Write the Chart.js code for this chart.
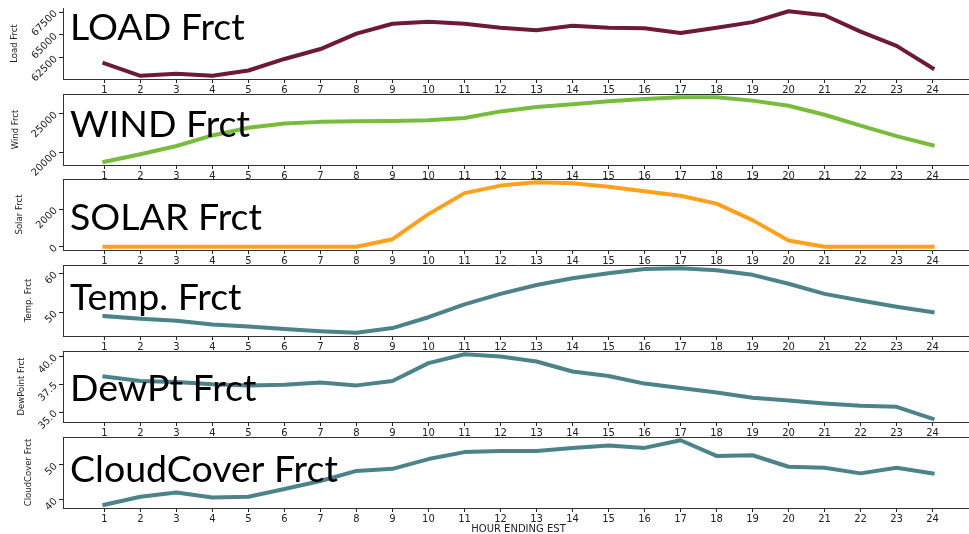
<!DOCTYPE html>
<html>
<head>
<meta charset="utf-8">
<script src="https://cdn.jsdelivr.net/npm/chart.js@4.4.1/dist/chart.umd.min.js"></script>
<style>
  html, body { margin: 0; padding: 0; background: #fff; overflow: hidden; width: 969px; height: 534px; }
  #wrap { position: relative; width: 976px; height: 534px; }
  .panel { position: absolute; left: 0; width: 976px; }
</style>
</head>
<body>
<div id="wrap"></div>
<script>
const hours = [1, 2, 3, 4, 5, 6, 7, 8, 9, 10, 11, 12, 13, 14, 15, 16, 17, 18, 19, 20, 21, 22, 23, 24];

const loadFrct = [61880, 60510, 60730, 60510, 61090, 62360, 63450, 65140, 66230, 66450, 66230, 65790,
  65510, 66010, 65790, 65730, 65220, 65790, 66410, 67610, 67170, 65360, 63800, 61340];
const windFrct = [18760, 19740, 20810, 22180, 23170, 23720, 23940, 24010, 24060, 24140, 24450, 25300,
  25860, 26240, 26630, 26920, 27140, 27140, 26700, 26030, 24870, 23460, 22090, 20900];
const solarFrct = [0, 0, 0, 0, 0, 0, 0, 0, 405, 1740, 2860, 3260,
  3440, 3390, 3200, 2960, 2720, 2300, 1420, 330, 0, 0, 0, 0];
const tempFrct = [49.1, 48.4, 47.9, 46.9, 46.4, 45.8, 45.2, 44.8, 46.0, 48.8, 52.1, 54.8,
  57.1, 58.8, 60.1, 61.2, 61.4, 60.9, 59.7, 57.4, 54.8, 53.1, 51.5, 50.1];
const dewPtFrct = [38.2, 37.8, 37.7, 37.5, 37.4, 37.45, 37.65, 37.4, 37.8, 39.4, 40.2, 40.0,
  39.55, 38.65, 38.25, 37.56, 37.17, 36.76, 36.28, 36.04, 35.78, 35.56, 35.47, 34.4];
const cloudFrct = [38.6, 40.9, 42.1, 40.7, 40.9, 43.1, 45.4, 48.3, 48.9, 51.7, 53.7, 54.0,
  54.0, 54.9, 55.6, 54.9, 57.1, 52.6, 52.8, 49.5, 49.2, 47.6, 49.2, 47.6];

const loadTicks = [62500, 65000, 67500];
const windTicks = [20000, 25000];
const solarTicks = [0, 2000];
const tempTicks = [50, 60];
const dewPtTicks = [35, 37.5, 40];
const cloudTicks = [40, 50];

const panelTitles = ["LOAD Frct", "WIND Frct", "SOLAR Frct", "Temp. Frct", "DewPt Frct", "CloudCover Frct"];
const axisLabels = ["Load Frct", "Wind Frct", "Solar Frct", "Temp. Frct", "DewPoint Frct", "CloudCover Frct"];
const xAxisLabel = "HOUR ENDING EST";

// layout / style per panel (pixels)
const panels = [
  { values: loadFrct, ticks: loadTicks, color: "#6d1a36", top: 8, titleBase: 32, labelPad: 10, topBorder: false, digits: 0 },
  { values: windFrct, ticks: windTicks, color: "#78bc3e", top: 94, titleBase: 43, labelPad: 11, topBorder: true, digits: 0 },
  { values: solarFrct, ticks: solarTicks, color: "#ffa01e", top: 179, titleBase: 51, labelPad: 15, topBorder: true, digits: 0 },
  { values: tempFrct, ticks: tempTicks, color: "#4b8389", top: 265, titleBase: 45, labelPad: 24, topBorder: true, digits: 0 },
  { values: dewPtFrct, ticks: dewPtTicks, color: "#4b8389", top: 351, titleBase: 50, labelPad: 17, topBorder: true, digits: 1 },
  { values: cloudFrct, ticks: cloudTicks, color: "#4b8389", top: 437, titleBase: 45, labelPad: 24, topBorder: true, digits: 0 }
];

const AREA_H = 71;
const PAD_TOP = 12;
const AXIS_LEFT = 63;
const X_MIN = -0.15;
const X_MAX = 25.15;

const framePlugin = {
  id: "frame",
  afterDatasetsDraw(chart, args, opts) {
    const { ctx, chartArea } = chart;
    ctx.save();
    ctx.strokeStyle = "#333";
    ctx.lineWidth = 1;
    ctx.beginPath();
    if (opts.topBorder) {
      ctx.moveTo(chartArea.left, Math.round(chartArea.top) + 0.5);
      ctx.lineTo(chartArea.right, Math.round(chartArea.top) + 0.5);
    }
    ctx.moveTo(Math.round(chartArea.right) - 0.5, chartArea.top);
    ctx.lineTo(Math.round(chartArea.right) - 0.5, chartArea.bottom);
    ctx.stroke();

    // big panel title drawn over the line, like the reference
    ctx.fillStyle = "#000";
    ctx.font = "37.5px Lato";
    ctx.textBaseline = "alphabetic";
    ctx.fillText(opts.title, chartArea.left + 7, chartArea.top + opts.titleBase);
    ctx.restore();
  }
};

const wrap = document.getElementById("wrap");

panels.forEach((p, idx) => {
  const last = idx === panels.length - 1;
  const xH = last ? 26 : 14;

  const div = document.createElement("div");
  div.className = "panel";
  div.style.top = (p.top - PAD_TOP) + "px";
  div.style.height = (PAD_TOP + AREA_H + xH) + "px";
  const canvas = document.createElement("canvas");
  div.append(canvas);
  wrap.append(div);

  const lo = Math.min(...p.values);
  const hi = Math.max(...p.values);
  const margin = (hi - lo) * 0.05;

  new Chart(canvas, {
    type: "line",
    data: {
      datasets: [{
        data: hours.map((h, i) => ({ x: h, y: p.values[i] })),
        borderColor: p.color,
        borderWidth: 4,
        pointRadius: 0,
        tension: 0,
        fill: false,
        borderJoinStyle: "round",
        borderCapStyle: "square"
      }]
    },
    options: {
      responsive: true,
      maintainAspectRatio: false,
      animation: false,
      events: [],
      layout: { padding: { top: PAD_TOP, left: 0, right: 2, bottom: 0 } },
      plugins: {
        legend: { display: false },
        tooltip: { enabled: false },
        frame: { topBorder: p.topBorder, title: panelTitles[idx], titleBase: p.titleBase }
      },
      scales: {
        x: {
          type: "linear",
          min: X_MIN,
          max: X_MAX,
          afterBuildTicks: (s) => { s.ticks = hours.map((v) => ({ value: v })); },
          afterFit: (s) => { s.height = xH; },
          grid: { display: true, drawOnChartArea: false, drawTicks: true, tickLength: 4, color: "#222" },
          border: { display: true, color: "#333", width: 1 },
          ticks: {
            autoSkip: false, maxRotation: 0, padding: 1,
            color: "#222", font: { family: "DejaVu Sans", size: 10 },
            callback: (v) => String(v)
          },
          title: {
            display: last,
            text: xAxisLabel,
            color: "#222",
            font: { family: "DejaVu Sans", size: 10, lineHeight: 1 },
            padding: { top: 0, bottom: 0 }
          }
        },
        y: {
          min: lo - margin,
          max: hi + margin,
          afterBuildTicks: (s) => { s.ticks = p.ticks.map((v) => ({ value: v })); },
          afterFit: (s) => { s.width = AXIS_LEFT; },
          grid: { display: true, drawOnChartArea: false, drawTicks: true, tickLength: 4, color: "#222" },
          border: { display: true, color: "#333", width: 1 },
          ticks: {
            minRotation: 45, maxRotation: 45, padding: 3,
            color: "#222", font: { family: "DejaVu Sans", size: 10 },
            callback: (v) => Number(v).toFixed(p.digits)
          },
          title: {
            display: true,
            text: axisLabels[idx],
            color: "#222",
            font: { family: "DejaVu Sans", size: 8.5 },
            padding: { top: p.labelPad, bottom: 0 }
          }
        }
      }
    },
    plugins: [framePlugin]
  });
});
</script>
</body>
</html>
